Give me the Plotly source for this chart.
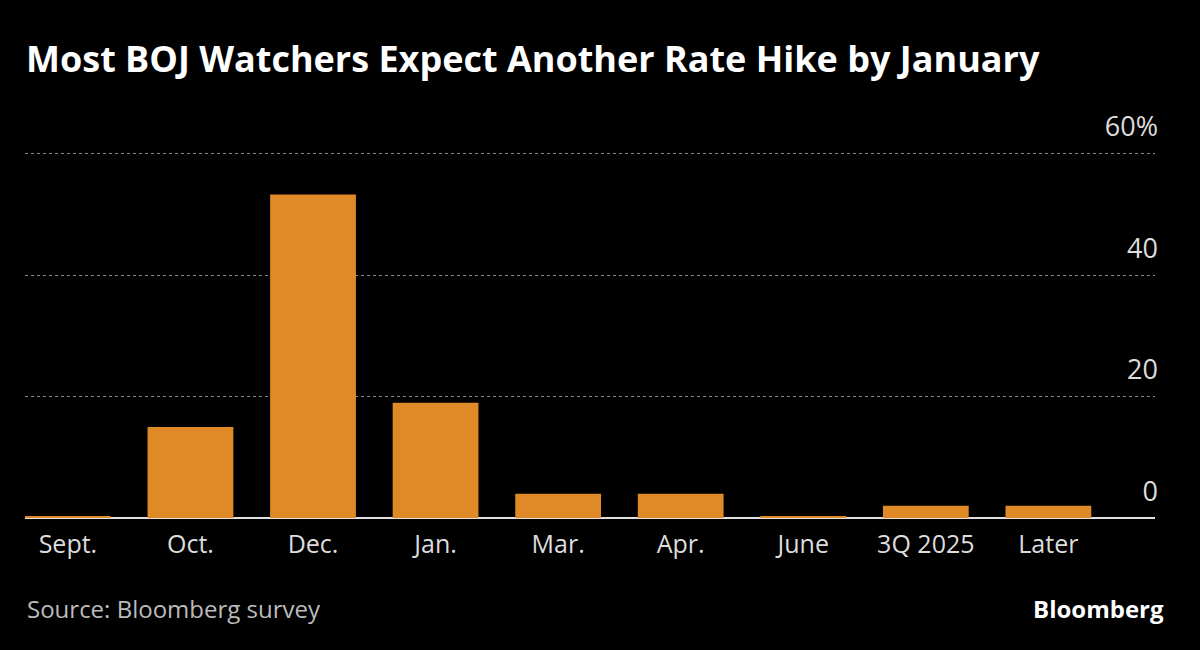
import plotly.graph_objects as go

categories = ["Sept.", "Oct.", "Dec.", "Jan.", "Mar.", "Apr.", "June", "3Q 2025", "Later"]
values = [0, 15, 53.3, 19, 4, 4, 0, 2, 2]
tick_vals = [0, 20, 40, 60]
tick_text = ["0", "20", "40", "60%"]

ORANGE = "#DF8A26"

fig = go.Figure()
fig.add_trace(go.Bar(x=categories, y=values, marker_color=ORANGE, marker_line_width=0,
                     hoverinfo="x+y"))
# thin baseline marker for zero-valued categories
zero_marks = [0.35 if v == 0 else None for v in values]
fig.add_trace(go.Bar(x=categories, y=zero_marks, marker_color=ORANGE, marker_line_width=0,
                     hoverinfo="skip"))

fig.update_layout(
    barmode="overlay",
    bargap=0.3,
    width=1200, height=650,
    paper_bgcolor="black", plot_bgcolor="black",
    margin=dict(l=25, r=45, t=93, b=132),
    showlegend=False,
    font=dict(family="Open Sans", color="#cccccc"),
    title=dict(text="<b>Most BOJ Watchers Expect Another Rate Hike by January</b>",
               x=0, xref="paper", xanchor="left", y=0.908, yanchor="middle",
               pad=dict(l=1),
               font=dict(family="Open Sans", size=36, color="white")),
    xaxis=dict(range=[-0.35, 8.87], showgrid=False, showline=False, ticks="",
               ticklabelstandoff=9,
               tickfont=dict(size=25, color="#dddddd"), fixedrange=True),
    yaxis=dict(range=[0, 70], side="right", tickvals=tick_vals, ticktext=tick_text,
               ticklabelposition="inside top", ticklabelshift=-8, ticklabelstandoff=-6,
               showgrid=True, gridcolor="#888888", griddash="dot", gridwidth=1,
               zeroline=True, zerolinecolor="#e0e0e0", zerolinewidth=2,
               showline=False, ticks="",
               tickfont=dict(size=27, color="#dddddd"), fixedrange=True),
    annotations=[
        dict(text="Source: Bloomberg survey", xref="paper", yref="paper", x=0.0, y=-0.214,
             xanchor="left", yanchor="middle", showarrow=False,
             font=dict(family="Open Sans", size=24, color="#bbbbbb")),
        dict(text="<b>Bloomberg</b>", xref="paper", yref="paper", x=1.01, y=-0.214,
             xanchor="right", yanchor="middle", showarrow=False,
             font=dict(family="Open Sans", size=24, color="white")),
    ],
)

fig.write_html("out.html", config={"displayModeBar": False},
               post_script="document.body.style.margin='0';document.body.style.background='black';")
